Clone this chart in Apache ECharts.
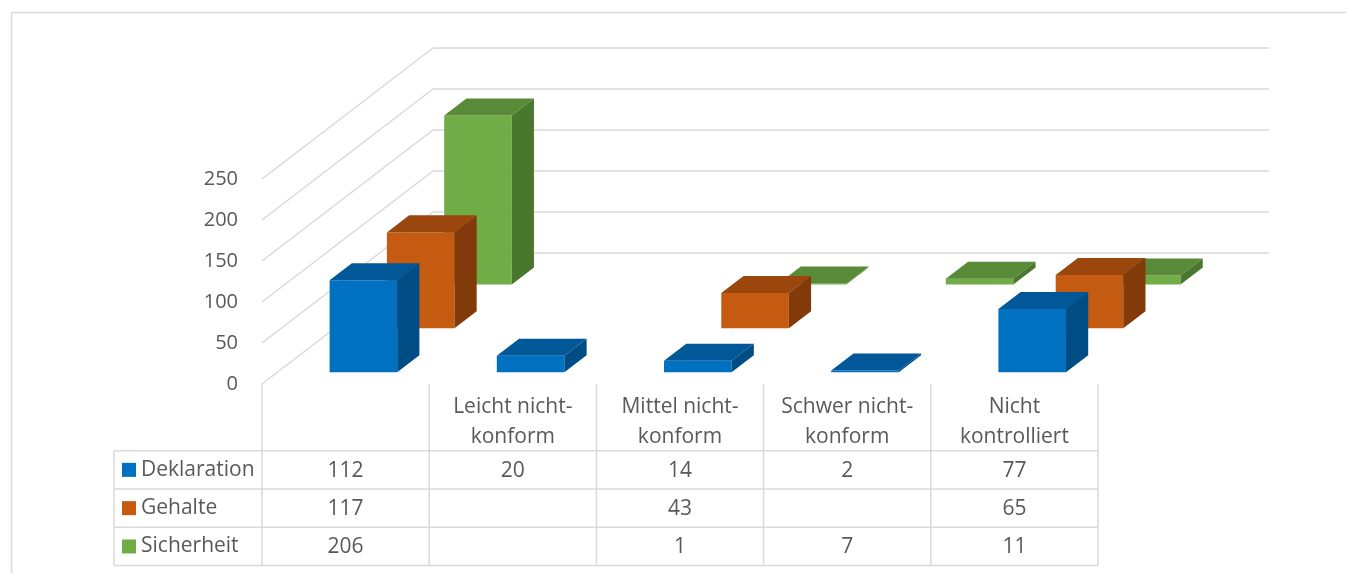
<!DOCTYPE html>
<html>

<head>
    <meta charset="UTF-8">
    <title>Deklaration / Gehalte / Sicherheit</title>
    <script src="https://cdn.jsdelivr.net/npm/echarts@6/dist/echarts.min.js"></script>
    <style>
        html, body {
            margin: 0;
            padding: 0;
            background: #ffffff;
        }

        #chart {
            width: 1346px;
            height: 573px;
        }
    </style>
</head>

<body>
    <div id="chart"></div>
</body>
<script>
    // data
    var categories = ['', 'Leicht nicht-\nkonform', 'Mittel nicht-\nkonform', 'Schwer nicht-\nkonform', 'Nicht\nkontrolliert'];
    var seriesNames = ['Deklaration', 'Gehalte', 'Sicherheit'];
    var deklaration = [112, 20, 14, 2, 77];
    var gehalte = [117, null, 43, null, 65];
    var sicherheit = [206, null, 1, 7, 11];
    var yTicks = [0, 50, 100, 150, 200, 250];

    var values = [deklaration, gehalte, sicherheit];

    // faces: front, top, side
    var colors = [
        ['#0070C0', '#005898', '#004C84'],
        ['#C55A11', '#9A460D', '#823A0B'],
        ['#70AD47', '#588A37', '#4A772E']
    ];

    var FONT = '21px "Open Sans"';
    var TEXT = '#595959';
    var LINE = '#D9D9D9';

    // depth of the 3d box in pixels
    var DX = 171, DY = 131;
    var ROW_D = [0.09, 0.425, 0.76];
    var BAR_D = 0.13;
    var BAR_W = 0.404;
    var NUDGE = 2.4;

    var HEADER_H = 66.7, ROW_H = 38.3;
    var LEGEND_W = 148;

    function barItem(row) {
        return function (params, api) {
            var v = api.value(1);
            if (v == null || isNaN(v)) return null;
            var idx = api.value(0);
            var base = api.coord([idx, 0]);
            var top = api.coord([idx, v]);
            var bw = api.size([1, 0])[0] * BAR_W;
            var sx = ROW_D[row] * DX + NUDGE, sy = -ROW_D[row] * DY;
            var xl = base[0] - bw / 2 + sx, xr = xl + bw;
            var y0 = base[1] + sy, y1 = top[1] + sy;
            var ox = BAR_D * DX, oy = -BAR_D * DY;
            var c = colors[row];
            return {
                type: 'group',
                children: [{
                    type: 'polygon',
                    shape: { points: [[xl, y1], [xr, y1], [xr, y0], [xl, y0]] },
                    style: { fill: c[0] }
                }, {
                    type: 'polygon',
                    shape: { points: [[xl, y1], [xr, y1], [xr + ox, y1 + oy], [xl + ox, y1 + oy]] },
                    style: { fill: c[1] }
                }, {
                    type: 'polygon',
                    shape: { points: [[xr, y1], [xr, y0], [xr + ox, y0 + oy], [xr + ox, y1 + oy]] },
                    style: { fill: c[2] }
                }]
            };
        };
    }

    function wallItem(params, api) {
        var cs = params.coordSys;
        var y = api.coord([0, api.value(1)])[1];
        var left = cs.x, right = cs.x + cs.width;
        return {
            type: 'group',
            children: [{
                type: 'line',
                shape: { x1: left, y1: y, x2: left + DX, y2: y - DY },
                style: { stroke: LINE, lineWidth: 1.5 }
            }, {
                type: 'line',
                shape: { x1: left + DX, y1: y - DY, x2: right + DX, y2: y - DY },
                style: { stroke: LINE, lineWidth: 1.5 }
            }]
        };
    }

    function tableItem(params, api) {
        var cs = params.coordSys;
        var idx = api.value(0);
        var cx = api.coord([idx, 0])[0];
        var cw = api.size([1, 0])[0];
        var top = cs.y + cs.height;
        var bottom = top + HEADER_H + ROW_H * seriesNames.length;
        var children = [];

        // right border of this column (and left border for the first)
        children.push({
            type: 'line',
            shape: { x1: cx + cw / 2, y1: top, x2: cx + cw / 2, y2: bottom },
            style: { stroke: LINE, lineWidth: 1.5 }
        });
        if (idx === 0) {
            children.push({
                type: 'line',
                shape: { x1: cx - cw / 2, y1: top, x2: cx - cw / 2, y2: bottom },
                style: { stroke: LINE, lineWidth: 1.5 }
            });
            var tl = cx - cw / 2 - LEGEND_W;
            children.push({
                type: 'line',
                shape: { x1: tl, y1: top + HEADER_H, x2: tl, y2: bottom },
                style: { stroke: LINE, lineWidth: 1.5 }
            });
            for (var r = 0; r <= seriesNames.length; r++) {
                var ly = top + HEADER_H + r * ROW_H;
                children.push({
                    type: 'line',
                    shape: { x1: tl, y1: ly, x2: cs.x + cs.width, y2: ly },
                    style: { stroke: LINE, lineWidth: 1.5 }
                });
            }
            seriesNames.forEach(function (name, r) {
                var my = top + HEADER_H + (r + 0.5) * ROW_H;
                children.push({
                    type: 'rect',
                    shape: { x: tl + 8, y: my - 7, width: 14, height: 14 },
                    style: { fill: colors[r][0] }
                });
                children.push({
                    type: 'text',
                    style: {
                        text: name, x: tl + 27, y: my, align: 'left', verticalAlign: 'middle',
                        fill: TEXT, font: FONT
                    }
                });
            });
        }

        children.push({
            type: 'text',
            style: {
                text: categories[idx], x: cx, y: top + HEADER_H / 2 + 5, align: 'center', verticalAlign: 'middle',
                fill: TEXT, font: FONT, lineHeight: 30
            }
        });
        values.forEach(function (arr, r) {
            if (arr[idx] == null) return;
            children.push({
                type: 'text',
                style: {
                    text: String(arr[idx]), x: cx, y: top + HEADER_H + (r + 0.5) * ROW_H + 1,
                    align: 'center', verticalAlign: 'middle', fill: TEXT, font: FONT
                }
            });
        });
        return { type: 'group', children: children };
    }

    var chart = echarts.init(document.getElementById('chart'));

    var series = [{
        type: 'custom',
        name: 'walls',
        renderItem: wallItem,
        data: yTicks.map(function (v) { return [0, v]; }),
        encode: { x: 0, y: 1 },
        silent: true,
        z: 1
    }, {
        type: 'custom',
        name: 'table',
        renderItem: tableItem,
        data: categories.map(function (c, i) { return [i, 0]; }),
        encode: { x: 0, y: 1 },
        silent: true,
        clip: false,
        z: 1
    }];

    // back rows first so the front rows cover them
    for (var r = seriesNames.length - 1; r >= 0; r--) {
        series.push({
            type: 'custom',
            name: seriesNames[r],
            renderItem: barItem(r),
            data: values[r].map(function (v, i) { return [i, v]; }),
            encode: { x: 0, y: 1 },
            clip: false,
            z: 10 + (seriesNames.length - r)
        });
    }

    chart.setOption({
        animation: false,
        grid: {
            left: 262,
            right: 248,
            top: 179,
            bottom: 189
        },
        xAxis: {
            type: 'category',
            data: categories,
            show: false
        },
        yAxis: {
            type: 'value',
            min: 0,
            max: 250,
            interval: 50,
            axisLine: { show: false },
            axisTick: { show: false },
            splitLine: { show: false },
            axisLabel: {
                color: TEXT,
                fontSize: 20,
                fontFamily: 'Open Sans',
                margin: 24
            }
        },
        graphic: [{
            type: 'line',
            shape: { x1: 11.5, y1: 12.5, x2: 1346, y2: 12.5 },
            style: { stroke: LINE, lineWidth: 1.5 },
            silent: true
        }, {
            type: 'line',
            shape: { x1: 11.5, y1: 12.5, x2: 11.5, y2: 573 },
            style: { stroke: LINE, lineWidth: 1.5 },
            silent: true
        }],
        series: series
    });
</script>

</html>
